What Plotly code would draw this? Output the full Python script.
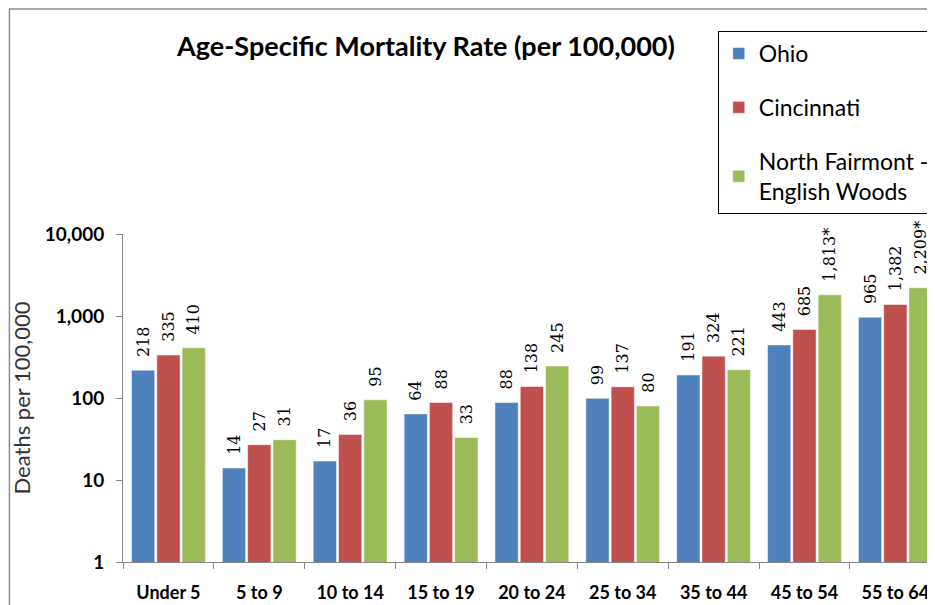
import plotly.graph_objects as go

categories = ["Under 5", "5 to 9", "10 to 14", "15 to 19", "20 to 24",
              "25 to 34", "35 to 44", "45 to 54", "55 to 64"]
ohio = [218, 14, 17, 64, 88, 99, 191, 443, 965]
cincinnati = [335, 27, 36, 88, 138, 137, 324, 685, 1382]
nfew = [410, 31, 95, 33, 245, 80, 221, 1813, 2209]
nfew_labels = ["410", "31", "95", "33", "245", "80", "221", "1,813*", "2,209*"]

series_names = ["Ohio", "Cincinnati", "North Fairmont -<br>English Woods"]
colors = ["#4F81BD", "#C0504D", "#9BBB59"]

FONT = "Lato"
LABEL_FONT = "DejaVu Serif"
PAD = "\u00a0\u00a0"

def fmt(v):
    return f"{v:,}"

fig = go.Figure()
data_sets = [
    (ohio, [fmt(v) for v in ohio]),
    (cincinnati, [fmt(v) for v in cincinnati]),
    (nfew, nfew_labels),
]
for i, (vals, labels) in enumerate(data_sets):
    fig.add_trace(go.Bar(
        x=categories, y=vals, name=series_names[i],
        marker=dict(color=colors[i], line=dict(color="white", width=0.5)),
        text=[PAD + t for t in labels], textposition="outside", textangle=-90,
        textfont=dict(family=LABEL_FONT, size=16, color="black"),
        constraintext="none", cliponaxis=False,
        legendgroup=f"g{i}",
    ))

# page body has an 8px margin, so figure coords = reference coords - 8
OFF = 8
W, H = 935 - OFF, 605 - OFF
L, R, T, B = 123 - OFF, 0, 234 - OFF, 605 - 562
pw = W - L - R
ph = H - T - B

def px(xpix):
    return (xpix - OFF - L) / pw

def py(ypix):
    return (H - B - (ypix - OFF)) / ph

fig.update_layout(
    width=W, height=H,
    margin=dict(l=L, r=R, t=T, b=B),
    paper_bgcolor="white", plot_bgcolor="white",
    barmode="group", bargap=0.165, bargroupgap=0.08,
    font=dict(family=FONT, color="black"),
    title=dict(text="<b>Age-Specific Mortality Rate (per 100,000)</b>",
               x=(426 - OFF) / W, xanchor="center", y=1 - (47 - OFF) / H, yanchor="middle",
               font=dict(family=FONT, size=27, color="black")),
    legend=dict(x=px(720), y=py(31), xanchor="left", yanchor="top",
                bordercolor="black", borderwidth=1, bgcolor="white",
                font=dict(family=FONT, size=23, color="black"),
                tracegroupgap=21, itemwidth=30),
    showlegend=True,
)
fig.update_xaxes(
    range=[-0.5, -0.5 + pw / 91.2],
    showline=True, linecolor="#868686", linewidth=1,
    ticks="outside", tickson="boundaries", ticklen=6, tickcolor="#868686",
    tickfont=dict(family=FONT, size=18, color="black"),
    tickprefix="<b>", ticksuffix="</b>", ticklabelstandoff=14,
    showgrid=False, zeroline=False,
)
fig.update_yaxes(
    type="log", range=[0, 4],
    tickvals=[1, 10, 100, 1000, 10000],
    ticktext=["<b>1</b>", "<b>10</b>", "<b>100</b>", "<b>1,000</b>", "<b>10,000</b>"],
    showline=True, linecolor="#868686", linewidth=1,
    ticks="outside", ticklen=6, tickcolor="#868686",
    tickfont=dict(family=FONT, size=19, color="black"), ticklabelstandoff=8,
    showgrid=False, zeroline=False,
    title=dict(text="Deaths per 100,000", font=dict(family=FONT, size=22, color="#333333"),
               standoff=12),
)
fig.add_shape(type="rect", xref="paper", yref="paper",
              x0=px(9), x1=px(1000), y0=py(700), y1=py(9),
              line=dict(color="#8c8c8c", width=1.5), layer="below")

fig.write_html("out.html")
